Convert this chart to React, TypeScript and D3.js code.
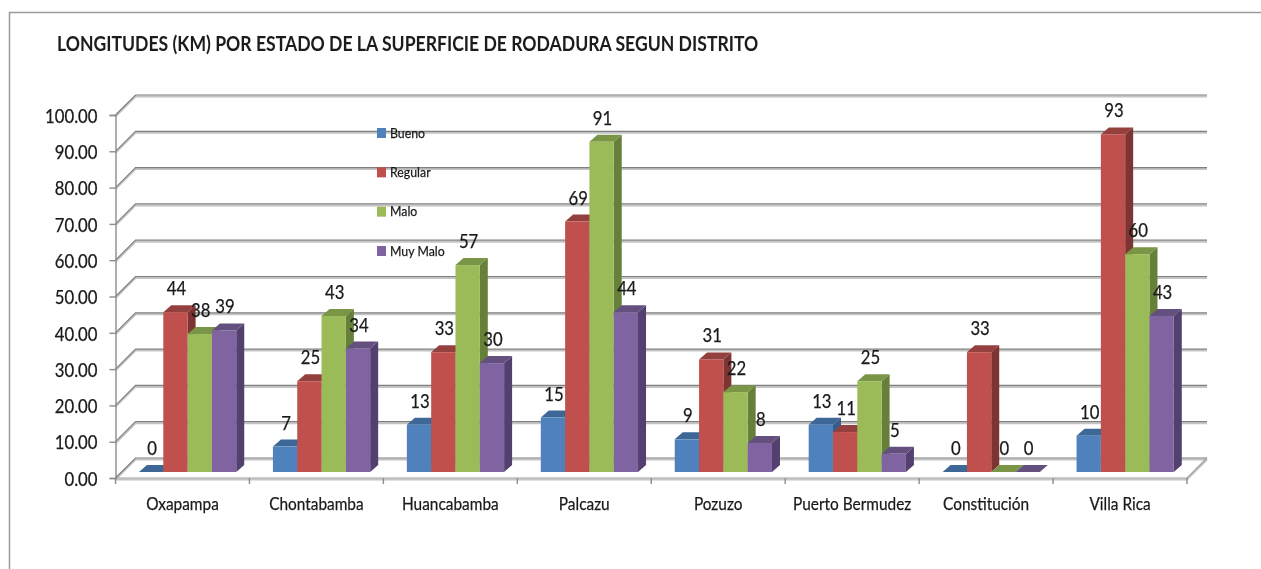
import React, { useEffect, useRef } from "react";
import * as d3 from "d3";

const title = "LONGITUDES (KM) POR ESTADO DE LA SUPERFICIE DE RODADURA SEGUN DISTRITO";
const districts = ["Oxapampa", "Chontabamba", "Huancabamba", "Palcazu", "Pozuzo", "Puerto Bermudez", "Constitución", "Villa Rica"];
const seriesNames = ["Bueno", "Regular", "Malo", "Muy Malo"];
const bueno = [0, 7, 13, 15, 9, 13, 0, 10];
const regular = [44, 25, 33, 69, 31, 11, 33, 93];
const malo = [38, 43, 57, 91, 22, 25, 0, 60];
const muyMalo = [39, 34, 30, 44, 8, 5, 0, 43];
const seriesValues = [bueno, regular, malo, muyMalo];
const yTicks = [0, 10, 20, 30, 40, 50, 60, 70, 80, 90, 100];
const frontColors = ["#4f81bd", "#c0504d", "#9bbb59", "#8064a2"];
const topColors = ["#3c6797", "#94403e", "#7a9546", "#64507f"];
const sideColors = ["#385d8a", "#7d3433", "#66803a", "#53406e"];

const FONT = "Lato, 'Open Sans', sans-serif";
const GRID = "#7f7f7f";

const App = () => {
  const svgRef = useRef<SVGSVGElement>(null);

  useEffect(() => {
    const svg = d3.select(svgRef.current);
    svg.selectAll("*").remove();

    // wall depth and bar depth of the fake 3D
    const wallX = 20;
    const wallY = 20;
    const barX = 8;
    const barY = 7;

    const y = d3.scaleLinear().domain([0, 100]).range([478, 115]);
    const x = d3.scaleBand().domain(districts).range([115.5, 1187]);
    const xInner = d3
      .scaleBand()
      .domain(seriesNames)
      .range([0, x.bandwidth()])
      .paddingOuter(0.755)
      .paddingInner(0)
      .align(0.64);

    const blur = svg.append("defs").append("filter").attr("id", "soft");
    blur.append("feGaussianBlur").attr("stdDeviation", 0.4);

    // frame
    svg
      .append("path")
      .attr("d", "M9.5,569V12.5H1261")
      .attr("fill", "none")
      .attr("stroke", "#9a9a9a")
      .attr("stroke-width", 1.5);

    svg
      .append("text")
      .attr("class", "narrow")
      .attr("x", 57)
      .attr("y", 51)
      .attr("font-family", FONT)
      .attr("font-size", 20)
      .attr("font-weight", 700)
      .attr("fill", "#1a1a1a")
      .attr("filter", "url(#soft)")
      .text(title);

    // gridlines have a pale shadow just below them
    const gridPath = (d: number) => {
      const p = y(d);
      return `M115.5,${p}L${115.5 + wallX},${p - wallY}H1207`;
    };
    const floorPath = `M115.5,${y(0)}H1187L1207,${y(0) - wallY}`;
    const shadow = svg
      .append("g")
      .attr("fill", "none")
      .attr("stroke", "#c4c4c4")
      .attr("stroke-width", 2)
      .attr("transform", "translate(0,1.5)");
    shadow.selectAll("path").data(yTicks).enter().append("path").attr("d", gridPath);
    shadow.append("path").attr("d", floorPath);
    const grid = svg.append("g").attr("fill", "none").attr("stroke", GRID).attr("stroke-width", 1.2);
    grid.selectAll("path").data(yTicks).enter().append("path").attr("d", gridPath);
    grid.append("path").attr("d", floorPath).attr("stroke", "#a0a0a0");

    // y axis
    const yAxis = svg
      .append("g")
      .attr("transform", "translate(115.5,0)")
      .call(
        d3
          .axisLeft(y)
          .tickValues(yTicks)
          .tickSize(6)
          .tickPadding(12)
          .tickFormat((d) => Number(d).toFixed(2))
      );
    yAxis.selectAll("path,line").attr("stroke", "#8c8c8c").attr("stroke-width", 1.4);
    yAxis
      .selectAll("text")
      .attr("class", "narrow")
      .attr("dy", "0.38em")
      .attr("font-family", FONT)
      .attr("font-size", 19)
      .attr("fill", "#1a1a1a")
      .attr("stroke", "#1a1a1a")
      .attr("stroke-width", 0.25)
      .attr("filter", "url(#soft)");

    // x axis: the ticks sit on the band edges, the labels in the band centres
    const xTicks = svg.append("g");
    xTicks
      .selectAll("line")
      .data([...districts.map((d) => x(d) as number), 1187])
      .enter()
      .append("line")
      .attr("x1", (d) => d)
      .attr("x2", (d) => d)
      .attr("y1", y(0))
      .attr("y2", y(0) + 6)
      .attr("stroke", "#8c8c8c")
      .attr("stroke-width", 1.4);
    svg
      .append("g")
      .selectAll("text")
      .data(districts)
      .enter()
      .append("text")
      .attr("class", "narrow")
      .attr("x", (d) => (x(d) as number) + x.bandwidth() / 2)
      .attr("y", 510)
      .attr("text-anchor", "middle")
      .attr("font-family", FONT)
      .attr("font-size", 17.5)
      .attr("fill", "#1a1a1a")
      .attr("stroke", "#1a1a1a")
      .attr("stroke-width", 0.25)
      .attr("filter", "url(#soft)")
      .text((d) => d);

    // bars, left to right so that each front covers the side of the bar before it
    const w = xInner.bandwidth();
    districts.forEach((district, i) => {
      const group = svg.append("g");
      seriesNames.forEach((name, s) => {
        const value = seriesValues[s][i];
        const left = (x(district) as number) + (xInner(name) as number);
        const top = y(value) - 6;
        const bottom = y(0) - 6;
        group
          .append("path")
          .attr("d", `M${left + w},${top}l${barX},${-barY}V${bottom - barY}l${-barX},${barY}Z`)
          .attr("fill", sideColors[s]);
        group
          .append("path")
          .attr("d", `M${left},${top}l${barX},${-barY}h${w}l${-barX},${barY}Z`)
          .attr("fill", topColors[s]);
        if (value > 0) {
          group
            .append("rect")
            .attr("x", left)
            .attr("y", top)
            .attr("width", w)
            .attr("height", bottom - top)
            .attr("fill", frontColors[s]);
        }
      });
    });

    // data labels
    const labels = svg.append("g");
    districts.forEach((district, i) => {
      seriesNames.forEach((name, s) => {
        const value = seriesValues[s][i];
        labels
          .append("text")
          .attr("class", "narrow")
          .attr("x", (x(district) as number) + (xInner(name) as number) + w / 2 + 1)
          .attr("y", y(value) - 23)
          .attr("text-anchor", "middle")
          .attr("font-family", FONT)
          .attr("font-size", 19)
          .attr("fill", "#1a1a1a")
          .attr("stroke", "#1a1a1a")
          .attr("stroke-width", 0.25)
          .attr("filter", "url(#soft)")
          .text(value);
      });
    });

    // legend
    const legendY = d3.scalePoint().domain(seriesNames).range([133, 251]);
    const legend = svg
      .append("g")
      .selectAll("g")
      .data(seriesNames)
      .enter()
      .append("g")
      .attr("transform", (d) => `translate(377,${legendY(d)})`);
    legend
      .append("rect")
      .attr("y", -5)
      .attr("width", 9)
      .attr("height", 10)
      .attr("fill", (_, i) => frontColors[i]);
    legend
      .append("text")
      .attr("class", "narrow")
      .attr("x", 13)
      .attr("y", 4.5)
      .attr("font-family", FONT)
      .attr("font-size", 14)
      .attr("fill", "#1a1a1a")
      .attr("stroke", "#1a1a1a")
      .attr("stroke-width", 0.25)
      .attr("filter", "url(#soft)")
      .text((d) => d);

    // the original text is tall and condensed, so squeeze it sideways
    svg.selectAll<SVGTextElement, unknown>("text.narrow").each(function () {
      const len = this.getComputedTextLength();
      d3.select(this).attr("textLength", len * 0.88).attr("lengthAdjust", "spacingAndGlyphs");
    });
  }, []);

  return (
    <svg
      ref={svgRef}
      width={1261}
      height={569}
      style={{ position: "absolute", left: 0, top: 0, display: "block", background: "#fff" }}
    />
  );
};

export default App;
